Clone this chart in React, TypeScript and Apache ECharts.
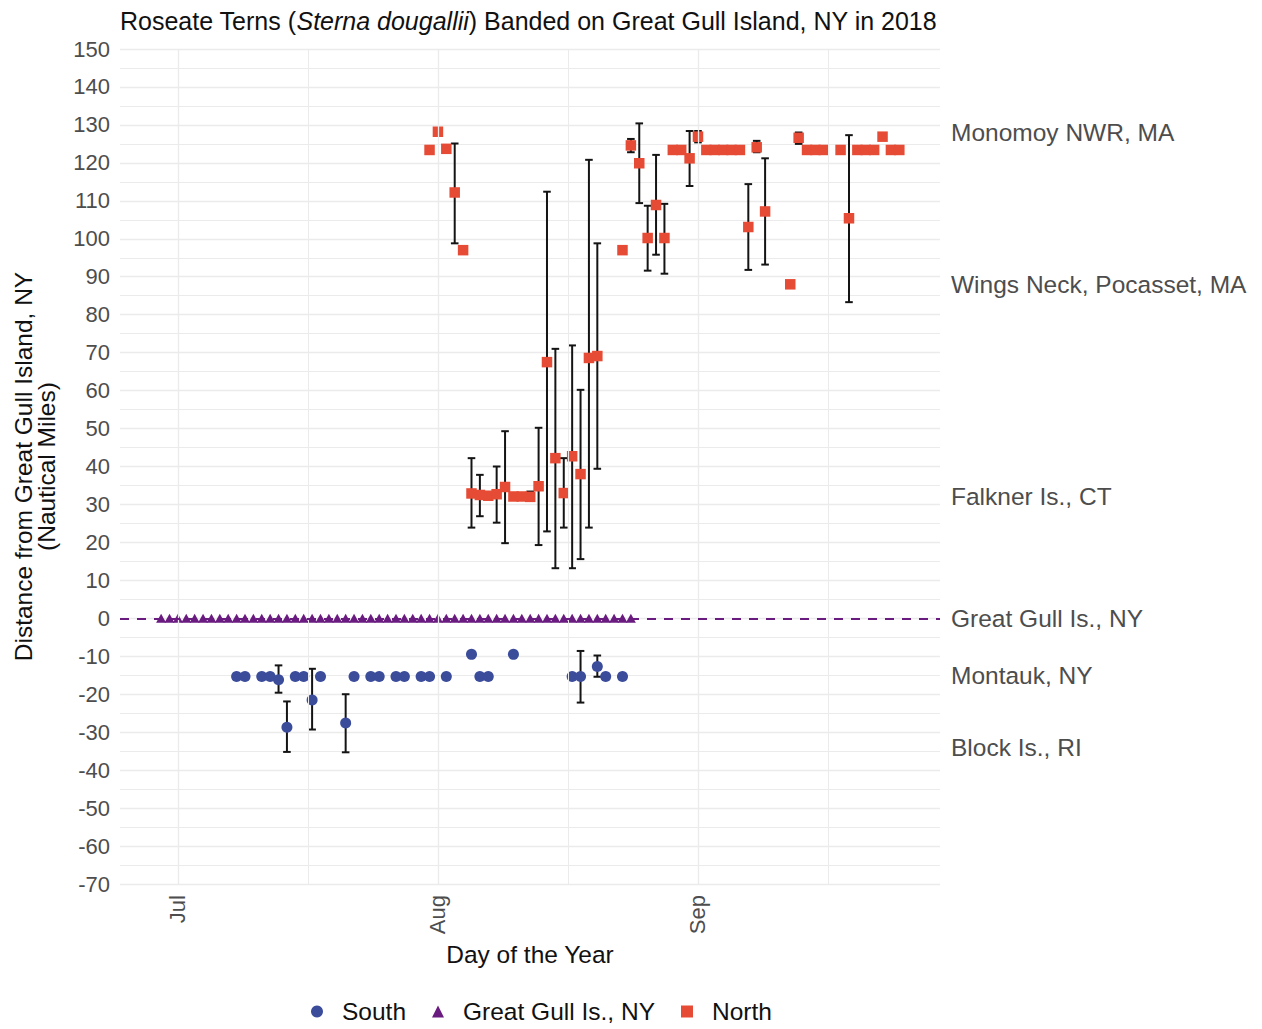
import React, { useEffect, useRef } from "react";
import * as echarts from "echarts";

// ---------- data ----------
const YEAR = 2018;

// South (Montauk / Block Is.) detections
const southDates = ["07-08","07-09","07-11","07-12","07-13","07-14","07-15","07-16","07-17","07-18","07-21","07-22","07-24","07-25","07-27","07-28","07-30","07-31","08-02","08-05","08-06","08-07","08-10","08-17","08-18","08-20","08-21","08-23"];
const southValues = [-15.3,-15.3,-15.3,-15.3,-16.2,-28.7,-15.3,-15.3,-21.5,-15.3,-27.6,-15.3,-15.3,-15.3,-15.3,-15.3,-15.3,-15.3,-15.3,-9.5,-15.3,-15.3,-9.5,-15.3,-15.3,-12.7,-15.3,-15.3];
const southLow = [null,null,null,null,-19.6,-35.2,null,null,-29.3,null,-35.3,null,null,null,null,null,null,null,null,null,null,null,null,null,-22.2,-15.4,null,null];
const southHigh = [null,null,null,null,-12.4,-21.9,null,null,-13.3,null,-20.0,null,null,null,null,null,null,null,null,null,null,null,null,null,-8.6,-9.8,null,null];

// Great Gull Island detections (distance 0)
const gullDates = ["06-29","06-30","07-01","07-02","07-03","07-04","07-05","07-06","07-07","07-08","07-09","07-10","07-11","07-12","07-13","07-14","07-15","07-16","07-17","07-18","07-19","07-20","07-21","07-22","07-23","07-24","07-25","07-26","07-27","07-28","07-29","07-30","07-31","08-01","08-02","08-03","08-04","08-05","08-06","08-07","08-08","08-09","08-10","08-11","08-12","08-13","08-14","08-15","08-16","08-17","08-18","08-19","08-20","08-21","08-22","08-23","08-24"];
const gullDistance = 0;

// North (Falkner Is., Wings Neck, Monomoy) detections
const northDates = ["07-31","08-01","08-02","08-03","08-04","08-05","08-06","08-07","08-08","08-09","08-10","08-11","08-12","08-13","08-14","08-15","08-16","08-17","08-18","08-19","08-20","08-23","08-24","08-25","08-26","08-27","08-28","08-29","08-30","08-31","09-01","09-02","09-03","09-04","09-05","09-06","09-07","09-08","09-09","09-12","09-13","09-14","09-15","09-16","09-18","09-19","09-20","09-21","09-22","09-23","09-24","09-25"];
const northValues = [123.4,128.2,123.7,112.2,97.0,32.9,32.5,32.3,32.7,34.6,32.1,32.1,32.0,34.8,67.5,42.2,33.0,42.7,38.0,68.6,69.1,97.0,124.6,119.9,100.2,108.9,100.2,123.4,123.4,121.2,126.9,123.4,123.4,123.4,123.4,123.4,103.1,124.1,107.2,88.0,126.6,123.4,123.4,123.4,123.4,105.4,123.4,123.4,123.4,126.9,123.4,123.4];
const northLow = [null,null,null,98.8,null,23.9,26.9,null,25.2,19.8,null,null,31.3,19.3,22.9,13.2,23.9,13.2,15.6,23.9,39.4,null,122.8,109.4,91.6,95.8,90.8,null,null,113.9,125.4,null,null,null,null,null,91.8,122.8,93.2,null,125.0,null,null,null,null,83.3,null,null,null,null,null,null];
const northHigh = [null,null,null,125.1,null,42.2,37.8,null,40.0,49.3,null,null,33.4,50.2,112.4,71.0,42.2,71.9,60.2,120.8,98.8,null,126.3,130.4,108.7,122.1,109.2,null,null,128.4,128.4,null,null,null,null,null,114.4,125.8,121.2,null,128.0,null,null,null,null,127.3,null,null,null,null,null,null];

// Axes
const monthTickDates = ["07-01", "08-01", "09-01"];
const monthTickLabels = ["Jul", "Aug", "Sep"];
const minorGridDates = ["07-16.5", "08-16.5", "09-16.5"];
const siteValues = [128, 88, 32, 0, -15, -34];
const siteNames = ["Monomoy NWR, MA", "Wings Neck, Pocasset, MA", "Falkner Is., CT", "Great Gull Is., NY", "Montauk, NY", "Block Is., RI"];

// ---------- helpers ----------
const doy = (md: string): number => {
  const [m, d] = md.split("-");
  const day = parseFloat(d);
  const whole = Math.floor(day);
  return (Date.UTC(YEAR, Number(m) - 1, whole) - Date.UTC(YEAR, 0, 1)) / 86400000 + 1 + (day - whole);
};

const FONT = "'Liberation Sans', Arial, Helvetica, sans-serif";
const RED = "#E64B35";
const BLUE = "#3B4C9B";
const PURPLE = "#6A1B80";
const GRID = "#ebebeb";

const errData = (dates: string[], lo: (number | null)[], hi: (number | null)[]) =>
  dates
    .map((d, i) => (lo[i] == null || hi[i] == null ? null : [doy(d), lo[i], hi[i]]))
    .filter((x) => x !== null);

const renderErr = (params: any, api: any) => {
  const x = api.value(0);
  const top = api.coord([x, api.value(2)]);
  const bot = api.coord([x, api.value(1)]);
  const w = 3.8;
  const style = { stroke: "#141414", lineWidth: 2 };
  return {
    type: "group",
    children: [
      { type: "line", shape: { x1: top[0], y1: top[1], x2: bot[0], y2: bot[1] }, style },
      { type: "line", shape: { x1: top[0] - w, y1: top[1], x2: top[0] + w, y2: top[1] }, style },
      { type: "line", shape: { x1: bot[0] - w, y1: bot[1], x2: bot[0] + w, y2: bot[1] }, style },
    ],
  };
};

export default function App() {
  const ref = useRef<HTMLDivElement>(null);
  useEffect(() => {
    if (!ref.current) return;
    const chart = echarts.init(ref.current, undefined, { renderer: "svg" });
    const option: any = {
      animation: false,
      backgroundColor: "#ffffff",
      textStyle: { fontFamily: FONT },
      title: {
        text: "{a|Roseate Terns (}{b|Sterna dougallii}{a|) Banded on Great Gull Island, NY in 2018}",
        left: 115,
        top: 3,
        textStyle: {
          fontWeight: "normal",
          rich: {
            a: { fontSize: 25, fontFamily: FONT, color: "#111111", fontWeight: "normal" },
            b: { fontSize: 25, fontFamily: FONT, color: "#111111", fontStyle: "italic", fontWeight: "normal" },
          },
        },
      },
      legend: {
        bottom: 0,
        left: 306,
        itemWidth: 12,
        itemHeight: 12,
        itemGap: 26,
        textStyle: { fontSize: 24.5, fontFamily: FONT, color: "#111111", padding: [0, 0, 0, 14] },
        data: [
          { name: "South", icon: "circle", itemStyle: { color: BLUE } },
          { name: "Great Gull Is., NY", icon: "triangle", itemStyle: { color: PURPLE } },
          { name: "North", icon: "rect", itemStyle: { color: RED } },
        ],
      },
      grid: { left: 120, right: 322, top: 49, bottom: 145, containLabel: false },
      xAxis: {
        type: "value",
        min: 175.1,
        max: 272.85,
        name: "Day of the Year",
        nameLocation: "middle",
        nameGap: 48,
        nameTextStyle: { fontSize: 24.5, fontFamily: FONT, color: "#111111" },
        axisLine: { show: false },
        axisTick: { show: false },
        splitLine: { show: false },
        axisLabel: {
          customValues: monthTickDates.map(doy),
          rotate: 90,
          margin: 11,
          fontSize: 22,
          fontFamily: FONT,
          color: "#4d4d4d",
          formatter: (v: number) => monthTickLabels[monthTickDates.map(doy).indexOf(v)] || "",
        },
      },
      yAxis: [
        {
          type: "value",
          min: -70,
          max: 150,
          interval: 10,
          name: "Distance from Great Gull Island, NY\n(Nautical Miles)",
          nameLocation: "middle",
          nameGap: 62,
          nameTextStyle: { fontSize: 24.5, fontFamily: FONT, color: "#111111", lineHeight: 23 },
          axisLine: { show: false },
          axisTick: { show: false },
          axisLabel: { fontSize: 22, fontFamily: FONT, color: "#4d4d4d", margin: 10 },
          splitLine: { show: true, lineStyle: { color: GRID, width: 1.3 } },
          minorTick: { show: false, splitNumber: 2 },
          minorSplitLine: { show: true, lineStyle: { color: GRID, width: 1 } },
        },
        {
          type: "value",
          min: -70,
          max: 150,
          position: "right",
          axisLine: { show: false },
          axisTick: { show: false },
          splitLine: { show: false },
          axisLabel: {
            customValues: siteValues,
            margin: 11,
            fontSize: 24.5,
            fontFamily: FONT,
            color: "#4d4d4d",
            formatter: (v: number) => siteNames[siteValues.indexOf(v)] || "",
          },
        },
      ],
      series: [
        {
          name: "grid-x",
          type: "scatter",
          data: [],
          z: 1,
          silent: true,
          markLine: {
            silent: true,
            symbol: "none",
            label: { show: false },
            animation: false,
            data: [
              ...monthTickDates.map((d) => ({ xAxis: doy(d), lineStyle: { color: GRID, width: 1.3, type: "solid" } })),
              ...minorGridDates.map((d) => ({ xAxis: doy(d), lineStyle: { color: GRID, width: 1, type: "solid" } })),
            ],
          },
        },
        {
          name: "zero-line",
          type: "scatter",
          data: [],
          z: 2,
          silent: true,
          markLine: {
            silent: true,
            symbol: "none",
            label: { show: false },
            animation: false,
            lineStyle: { color: PURPLE, width: 2, type: [9, 8] },
            data: [{ yAxis: gullDistance }],
          },
        },
        {
          name: "South-err",
          type: "custom",
          z: 3,
          renderItem: renderErr,
          encode: { x: 0, y: [1, 2] },
          data: errData(southDates, southLow, southHigh),
        },
        {
          name: "North-err",
          type: "custom",
          z: 3,
          renderItem: renderErr,
          encode: { x: 0, y: [1, 2] },
          data: errData(northDates, northLow, northHigh),
        },
        {
          name: "South",
          type: "scatter",
          symbol: "circle",
          symbolSize: 11,
          z: 4,
          itemStyle: { color: BLUE, opacity: 1 },
          data: southDates.map((d, i) => [doy(d), southValues[i]]),
        },
        {
          name: "Great Gull Is., NY",
          type: "scatter",
          symbol: "triangle",
          symbolSize: [10, 9],
          z: 4,
          itemStyle: { color: PURPLE, opacity: 1 },
          data: gullDates.map((d) => [doy(d), gullDistance]),
        },
        {
          name: "North",
          type: "scatter",
          symbol: "rect",
          symbolSize: 10.5,
          z: 4,
          itemStyle: { color: RED, opacity: 1 },
          data: northDates.map((d, i) => [doy(d), northValues[i]]),
        },
      ],
    };
    chart.setOption(option);
    return () => chart.dispose();
  }, []);
  return (
    <div
      ref={ref}
      style={{ position: "fixed", left: 0, top: 0, width: 1262, height: 1029, background: "#fff" }}
    />
  );
}
